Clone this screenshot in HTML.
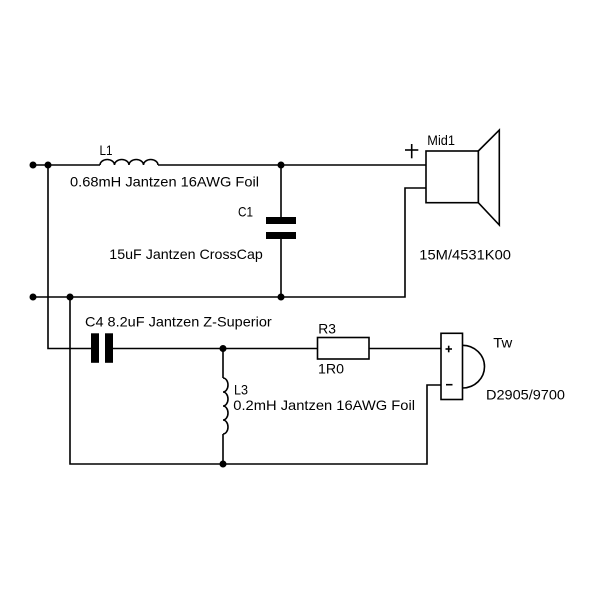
<!DOCTYPE html>
<html>
<head>
<meta charset="utf-8">
<style>
  html, body { margin: 0; padding: 0; background: #fff; }
  svg { display: block; }
  text { font-family: "Liberation Sans", Arial, sans-serif; font-size: 14px; fill: #000; }
</style>
</head>
<body>
<svg width="600" height="600" viewBox="0 0 600 600" xmlns="http://www.w3.org/2000/svg">
  <rect width="600" height="600" fill="#fff"/>
  <g fill="none" stroke="#000" stroke-width="1.6">
    <!-- top wire -->
    <line x1="33" y1="165" x2="100" y2="165"/>
    <path d="M100,165 a7.25,5.5 0 0 1 14.5,0 a7.25,5.5 0 0 1 14.5,0 a7.25,5.5 0 0 1 14.5,0 a7.25,5.5 0 0 1 14.5,0"/>
    <line x1="158" y1="165" x2="426" y2="165"/>
    <!-- left vertical to C4 -->
    <polyline points="48,165 48,348.5 91,348.5"/>
    <!-- bottom mid wire -->
    <polyline points="33,297 405,297 405,188 426,188"/>
    <!-- C1 -->
    <line x1="281" y1="165" x2="281" y2="217"/>
    <line x1="281" y1="239" x2="281" y2="297"/>
    <!-- x=70 return -->
    <polyline points="70,297 70,464 427,464 427,385 441,385"/>
    <!-- C4 to resistor -->
    <line x1="113" y1="348.5" x2="317.5" y2="348.5"/>
    <line x1="369" y1="348.5" x2="441" y2="348.5"/>
    <!-- L3 -->
    <line x1="223" y1="348.5" x2="223" y2="378"/>
    <path d="M223,378 a5,7 0 0 1 0,14 a5,7 0 0 1 0,14 a5,7 0 0 1 0,14 a5,7 0 0 1 0,14"/>
    <line x1="223" y1="434" x2="223" y2="464"/>
    <!-- resistor -->
    <rect x="317.5" y="337.5" width="51.5" height="21.5"/>
    <!-- mid speaker -->
    <rect x="426" y="151" width="52.3" height="51.7"/>
    <polygon points="478.3,151 499.3,130 499.3,225 478.3,202.7"/>
    <line x1="405" y1="150" x2="418.3" y2="150"/>
    <line x1="411.7" y1="144" x2="411.7" y2="158.3"/>
    <!-- tweeter -->
    <rect x="441" y="333.3" width="21.5" height="66.2"/>
    <path d="M462.5,345.3 A22,21.35 0 0 1 462.5,388"/>
    <line x1="445.5" y1="349" x2="452" y2="349"/>
    <line x1="448.7" y1="345.7" x2="448.7" y2="352.3"/>
    <line x1="446" y1="384.7" x2="452.5" y2="384.7"/>
  </g>
  <!-- capacitor plates -->
  <g fill="#000">
    <rect x="266" y="217" width="30" height="7"/>
    <rect x="266" y="232" width="30" height="7"/>
    <rect x="91" y="333.3" width="8" height="29.5"/>
    <rect x="105" y="333.3" width="8" height="29.5"/>
    <!-- junction dots -->
    <circle cx="33" cy="165" r="3.5"/>
    <circle cx="48" cy="165" r="3.5"/>
    <circle cx="281" cy="165" r="3.5"/>
    <circle cx="33" cy="297" r="3.5"/>
    <circle cx="70" cy="297" r="3.5"/>
    <circle cx="281" cy="297" r="3.5"/>
    <circle cx="223" cy="348.5" r="3.5"/>
    <circle cx="223" cy="464" r="3.5"/>
  </g>
  <!-- labels -->
  <text x="99.5" y="155" textLength="13" lengthAdjust="spacingAndGlyphs">L1</text>
  <text x="70" y="186.5" textLength="189" lengthAdjust="spacingAndGlyphs">0.68mH Jantzen 16AWG Foil</text>
  <text x="238" y="216.5" textLength="15" lengthAdjust="spacingAndGlyphs">C1</text>
  <text x="109.3" y="259" textLength="153.5" lengthAdjust="spacingAndGlyphs">15uF Jantzen CrossCap</text>
  <text x="427.3" y="145" textLength="27.7" lengthAdjust="spacingAndGlyphs">Mid1</text>
  <text x="419.3" y="259.5" textLength="91.7" lengthAdjust="spacingAndGlyphs">15M/4531K00</text>
  <text x="85" y="326.5" textLength="186.7" lengthAdjust="spacingAndGlyphs">C4 8.2uF Jantzen Z-Superior</text>
  <text x="234" y="394.3" textLength="14" lengthAdjust="spacingAndGlyphs">L3</text>
  <text x="233.3" y="410" textLength="181.7" lengthAdjust="spacingAndGlyphs">0.2mH Jantzen 16AWG Foil</text>
  <text x="318.3" y="333.3" textLength="17.7" lengthAdjust="spacingAndGlyphs">R3</text>
  <text x="318" y="373.3" textLength="26" lengthAdjust="spacingAndGlyphs">1R0</text>
  <text x="493.3" y="347.3" textLength="19" lengthAdjust="spacingAndGlyphs">Tw</text>
  <text x="486" y="399.3" textLength="79" lengthAdjust="spacingAndGlyphs">D2905/9700</text>
</svg>
</body>
</html>
